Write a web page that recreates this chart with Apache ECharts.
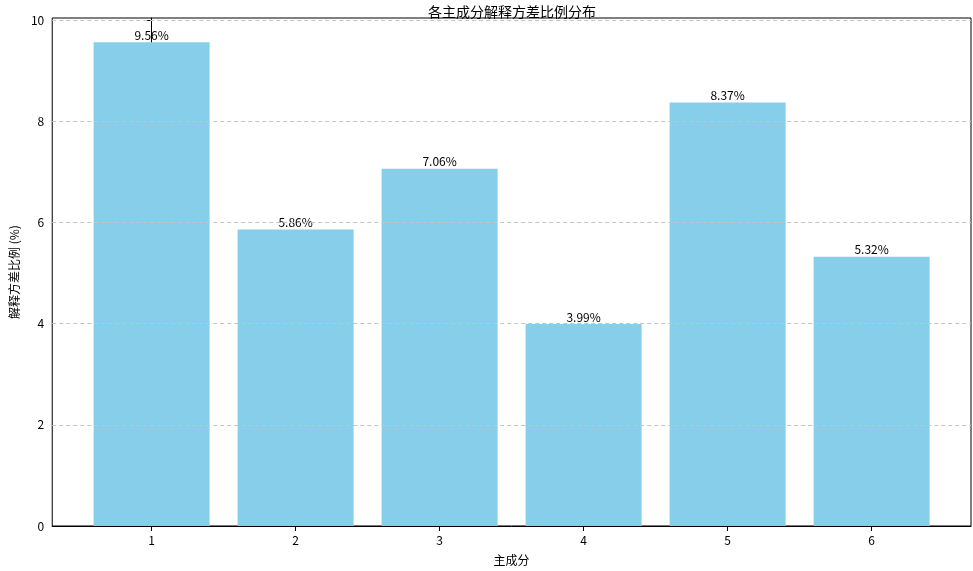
<!DOCTYPE html>
<html><head><meta charset="utf-8">
<script src="https://cdn.jsdelivr.net/npm/echarts@6/dist/echarts.min.js"></script>
<style>html,body{margin:0;padding:0;background:#fff}#c{width:973px;height:571px}</style>
</head><body><div id="c"></div>
<script>
const categories = ['1','2','3','4','5','6'];
const values = [9.56, 5.86, 7.06, 3.99, 8.37, 5.32];
const yTicks = [0, 2, 4, 6, 8, 10];
const font = '"Noto Sans CJK SC", "DejaVu Sans", sans-serif';
const chart = echarts.init(document.getElementById('c'));
chart.setOption({
  animation: false,
  textStyle: {fontFamily: font},
  title: {text: '各主成分解释方差比例分布', left: 507, top: 0, textAlign: 'center',
    textStyle: {fontSize: 14, fontWeight: 'normal', color: '#000', fontFamily: font}},
  grid: {left: 43, right: 2, top: 18, bottom: 42, show: true, borderColor: '#000', borderWidth: 1},
  xAxis: {type: 'value', min: -0.69, max: 5.69,
    name: '主成分', nameLocation: 'middle', nameGap: 28,
    nameTextStyle: {fontSize: 12, color: '#000'},
    axisLine: {lineStyle: {color: '#000'}},
    axisTick: {show: true, customValues: [0,1,2,3,4,5], lineStyle: {color: '#000'}},
    axisLabel: {customValues: [0,1,2,3,4,5], formatter: v => categories[Math.round(v)], color: '#000', fontSize: 12},
    splitLine: {show: false}},
  yAxis: {type: 'value', min: 0, max: 10.04,
    name: '解释方差比例 (%)', nameLocation: 'middle', nameGap: 28,
    nameTextStyle: {fontSize: 12, color: '#000'},
    axisLine: {show: true, lineStyle: {color: '#000'}},
    axisTick: {show: true, customValues: yTicks, lineStyle: {color: '#000'}},
    axisLabel: {customValues: yTicks, color: '#000', fontSize: 12},
    splitLine: {show: false}},
  series: [{
    type: 'bar', barWidth: 116,
    data: values.map((v, i) => [i, v]),
    itemStyle: {color: '#87CEEB'},
    label: {show: true, position: 'top', distance: 1, formatter: p => p.value[1].toFixed(2) + '%', color: '#000', fontSize: 12},
    markLine: {silent: true, symbol: 'none', label: {show: false},
      lineStyle: {type: [4, 3], color: '#c4c4c4', width: 1},
      data: yTicks.slice(1).map(t => ({yAxis: t}))},
    z: 3
  }]
});
</script></body></html>
